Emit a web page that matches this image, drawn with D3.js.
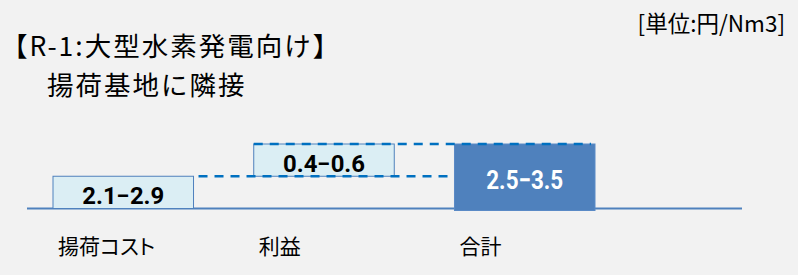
<!DOCTYPE html>
<html>
<head>
<meta charset="utf-8">
<script src="https://cdn.jsdelivr.net/npm/d3@7/dist/d3.min.js"></script>
<style>
  html, body { margin: 0; padding: 0; background: #F2F2F2; }
  svg { display: block; }
  .cat { font-feature-settings: "palt"; }
</style>
</head>
<body>
<svg id="chart" width="798" height="275"></svg>
<script>
// ---- data ----
const categories = ["揚荷コスト", "利益", "合計"];
const rangeLabels = ["2.1−2.9", "0.4−0.6", "2.5−3.5"];
// schematic (not-to-scale) step heights of the waterfall
const steps = [1, 1];
const titleLines = ["【R-1:大型水素発電向け】", "揚荷基地に隣接"];
const unitLabel = "[単位:円/Nm3]";

// ---- build waterfall table ----
const total = d3.sum(steps);
const rows = [];
let acc = 0;
steps.forEach((s, i) => { rows.push({ cat: categories[i], label: rangeLabels[i], y0: acc, y1: acc + s, kind: "step" }); acc += s; });
rows.push({ cat: categories[2], label: rangeLabels[2], y0: 0, y1: total, kind: "total" });

const svg = d3.select("#chart");

const x = d3.scaleBand().domain(categories).range([53, 595]).paddingInner(0.3).paddingOuter(0);
const y = d3.scaleLinear().domain([0, total]).range([208.5, 144]);

const font = "'Noto Sans CJK JP', 'Noto Sans', sans-serif";
const lightFill = "#DBEEF4", mid = "#4F81BD", dash = "#0070C0";

// baseline
svg.append("line")
  .attr("x1", 27).attr("x2", 742)
  .attr("y1", y(0)).attr("y2", y(0))
  .attr("stroke", mid).attr("stroke-width", 2);

// bars
svg.selectAll("rect.bar").data(rows).join("rect")
  .attr("class", "bar")
  .attr("x", d => x(d.cat))
  .attr("width", x.bandwidth())
  .attr("y", d => y(d.y1))
  .attr("height", d => y(d.y0) - y(d.y1) + (d.kind === "total" ? 2 : 0))
  .attr("fill", d => d.kind === "total" ? mid : lightFill)
  .attr("stroke", d => d.kind === "total" ? "#5A8AC6" : mid)
  .attr("stroke-width", 1);

// dashed connectors
const lastCat = categories[categories.length - 1];
svg.append("line")
  .attr("x1", x(categories[0]) + x.bandwidth() + 5)
  .attr("x2", x(lastCat))
  .attr("y1", y(rows[0].y1)).attr("y2", y(rows[0].y1))
  .attr("stroke", dash).attr("stroke-width", 2.5).attr("stroke-dasharray", "9,7");
svg.append("line")
  .attr("x1", x(categories[1]))
  .attr("x2", x(lastCat) + x.bandwidth() - 4)
  .attr("y1", y(rows[1].y1)).attr("y2", y(rows[1].y1))
  .attr("stroke", dash).attr("stroke-width", 2.5).attr("stroke-dasharray", "9,7");

// bar value labels
svg.selectAll("text.val").data(rows).join("text")
  .attr("class", "val")
  .attr("x", d => x(d.cat) + x.bandwidth() / 2)
  .attr("y", d => (y(d.y0) + y(d.y1)) / 2 + (d.kind === "total" ? 13 : 12))
  .attr("text-anchor", "middle")
  .attr("font-family", "Roboto, 'Liberation Sans', sans-serif")
  .attr("font-weight", "bold")
  .attr("font-size", d => d.kind === "total" ? 26 : 23)
  .attr("textLength", d => d.kind === "total" ? 77 : 82)
  .attr("lengthAdjust", "spacingAndGlyphs")
  .attr("fill", d => d.kind === "total" ? "#FFFFFF" : "#000000")
  .text(d => d.label);

// category labels
svg.selectAll("text.cat").data(categories).join("text")
  .attr("class", "cat")
  .attr("x", d => x(d) + 5)
  .attr("y", 254)
  .attr("text-anchor", "start")
  .attr("font-family", font)
  .attr("font-size", 21)
  .attr("fill", "#000")
  .text(d => d);

// title
svg.append("text")
  .attr("x", 1).attr("y", 56)
  .attr("font-family", font).attr("font-size", 26.5).attr("letter-spacing", 2).attr("fill", "#000")
  .text(titleLines[0]);
svg.append("text")
  .attr("x", 47).attr("y", 95)
  .attr("font-family", font).attr("font-size", 26.5).attr("letter-spacing", 2).attr("fill", "#000")
  .text(titleLines[1]);

// unit
svg.append("text")
  .attr("x", 785).attr("y", 32)
  .attr("text-anchor", "end")
  .attr("font-family", font).attr("font-size", 22.5).attr("fill", "#000")
  .text(unitLabel);
</script>
</body>
</html>
